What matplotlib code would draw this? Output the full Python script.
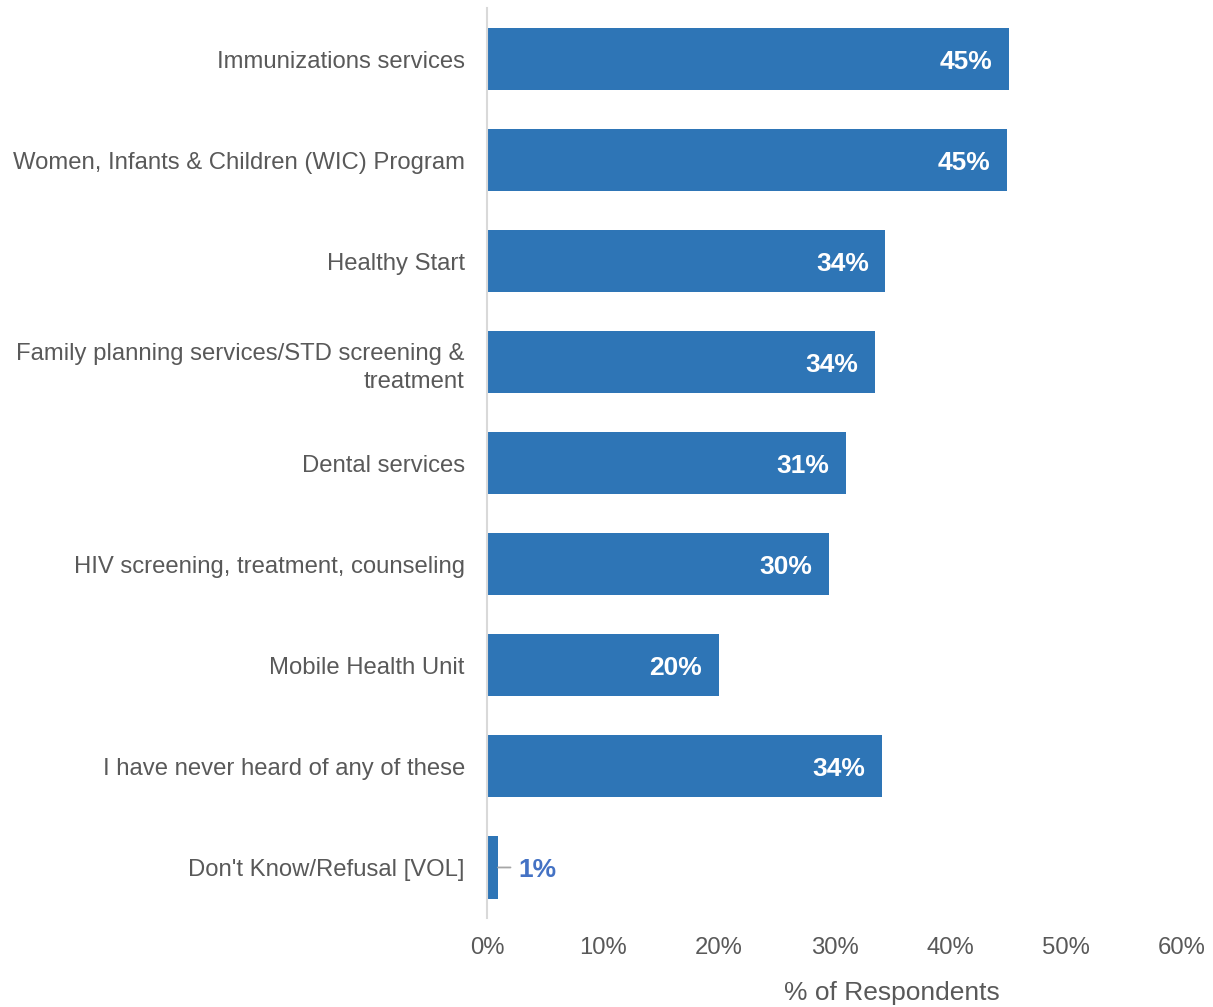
import matplotlib
matplotlib.use("Agg")
import matplotlib.pyplot as plt

categories = [
    "Immunizations services",
    "Women, Infants & Children (WIC) Program",
    "Healthy Start",
    "Family planning services/STD screening &\ntreatment",
    "Dental services",
    "HIV screening, treatment, counseling",
    "Mobile Health Unit",
    "I have never heard of any of these",
    "Don't Know/Refusal [VOL]",
]
values = [45.1, 44.9, 34.4, 33.5, 31.0, 29.5, 20.0, 34.1, 0.95]
labels = ["45%", "45%", "34%", "34%", "31%", "30%", "20%", "34%", "1%"]
xticks = [0, 10, 20, 30, 40, 50, 60]

plt.rcParams['font.family'] = ['Liberation Sans', 'DejaVu Sans']
gray = "#595959"
blue = "#2E75B6"

fig = plt.figure(figsize=(12.13, 10.07), dpi=100)
ax = fig.add_axes([487/1213, 89/1007, 695/1213, 910/1007])

y = list(range(len(categories)))
ax.barh(y, values, height=0.615, color=blue, zorder=2)
ax.set_ylim(8.5, -0.505)
ax.set_xlim(0, 60)
ax.set_yticks(y)
ax.set_yticklabels(categories, fontsize=17.2, color=gray, linespacing=1.38)
ax.set_xticks(xticks)
ax.set_xticklabels([f"{t}%" for t in xticks], fontsize=17.2, color=gray)
ax.tick_params(axis='both', length=0)
ax.tick_params(axis='y', pad=16)
ax.tick_params(axis='x', pad=14)
for s in ['top', 'right', 'bottom']:
    ax.spines[s].set_visible(False)
ax.spines['left'].set_color("#D9D9D9")
ax.spines['left'].set_linewidth(1.5)

for yi, v, lab in zip(y, values, labels):
    if v > 5:
        ax.annotate(lab, (v, yi), xytext=(-12, 0), textcoords='offset points',
                    ha='right', va='center_baseline', color='white', fontsize=19,
                    fontweight='bold')
    else:
        ax.annotate("", (v, yi), xytext=(9, 0), textcoords='offset points',
                    arrowprops=dict(arrowstyle='-', color='#A6A6A6', lw=1.3,
                                    shrinkA=0, shrinkB=0))
        ax.annotate(lab, (v, yi), xytext=(15, 0), textcoords='offset points',
                    ha='left', va='center_baseline', color="#4472C4", fontsize=19,
                    fontweight='bold')

fig.text(892/1213, 1 - 993/1007, "% of Respondents", ha='center', va='center',
         fontsize=19, color=gray)

fig.savefig("out.png", dpi=100)
